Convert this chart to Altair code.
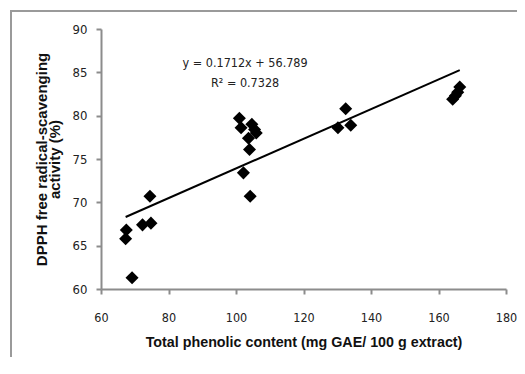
import altair as alt
import pandas as pd

tpc = [67.5, 67.3, 69.2, 72.3, 74.5, 74.8,
       101.0, 101.5, 102.2, 103.7, 104.0, 104.2, 104.7, 105.5, 106.0,
       130.2, 132.5, 134.0,
       164.2, 165.0, 165.7, 166.3]
dpph = [66.8, 65.8, 61.3, 67.4, 70.7, 67.6,
        79.7, 78.6, 73.4, 77.4, 76.1, 70.7, 79.0, 78.4, 78.0,
        78.6, 80.8, 78.9,
        81.9, 82.3, 82.7, 83.3]

slope = 0.1712
intercept = 56.789
eq_lines = ["y = 0.1712x + 56.789", "R² = 0.7328"]

df = pd.DataFrame({"x": tpc, "y": dpph})
xmin, xmax = min(tpc), max(tpc)
trend = pd.DataFrame({"x": [xmin, xmax],
                      "y": [slope * xmin + intercept, slope * xmax + intercept]})
ann = pd.DataFrame({"x": [102.7, 102.7], "y": [86.1, 83.8], "t": eq_lines})

FONT = "DejaVu Sans Condensed, Open Sans, Noto Sans, sans-serif"
BFONT = "Liberation Sans, Arial, sans-serif"

xscale = alt.Scale(domain=[60, 180], nice=False, zero=False)
yscale = alt.Scale(domain=[60, 90], nice=False, zero=False)

xaxis = alt.Axis(title="Total phenolic content  (mg GAE/ 100 g extract)",
                 values=[60, 80, 100, 120, 140, 160, 180], grid=False,
                 labelFlush=False, labelOverlap=False,
                 domainColor="#8c8c8c", domainWidth=2, tickColor="#8c8c8c",
                 tickWidth=2, tickSize=5, labelPadding=17, labelFontSize=12.5,
                 labelFont=FONT, labelColor="#222", titleFont=BFONT,
                 titleFontSize=14.3, titleFontWeight="bold", titleColor="#111",
                 titlePadding=12)
yaxis = alt.Axis(title=["DPPH free radical-scavenging", "activity (%)"],
                 values=[60, 65, 70, 75, 80, 85, 90], grid=False,
                 labelFlush=False, labelOverlap=False,
                 domainColor="#8c8c8c", domainWidth=2, tickColor="#8c8c8c",
                 tickWidth=2, tickSize=5, labelPadding=9, labelFontSize=13,
                 labelFont=FONT, labelColor="#222", titleFont=BFONT,
                 titleFontSize=15, titleFontWeight="bold", titleColor="#111",
                 titlePadding=10, titleLineHeight=13)

anchor = pd.DataFrame({"a": [0]})
frame_left = alt.Chart(anchor).mark_rule(color="#9a9a9a", strokeWidth=2).encode(
    x=alt.value(-90), y=alt.value(-19), y2=alt.value(400))
frame_top = alt.Chart(anchor).mark_rule(color="#9a9a9a", strokeWidth=2).encode(
    x=alt.value(-91), x2=alt.value(700), y=alt.value(-18))

points = alt.Chart(df).mark_point(shape="diamond", filled=True, color="black",
                                  size=170, opacity=1).encode(
    x=alt.X("x:Q", scale=xscale, axis=xaxis),
    y=alt.Y("y:Q", scale=yscale, axis=yaxis),
)

line = alt.Chart(trend).mark_line(color="black", strokeWidth=2).encode(
    x=alt.X("x:Q", scale=xscale), y=alt.Y("y:Q", scale=yscale))

text = alt.Chart(ann).mark_text(font=FONT, fontSize=12.5, color="#222").encode(
    x=alt.X("x:Q", scale=xscale), y=alt.Y("y:Q", scale=yscale), text="t:N")

chart = alt.layer(points, line, text, frame_left, frame_top).properties(
    width=405, height=260,
    autosize=alt.AutoSizeParams(type="none"),
    padding={"left": 93, "top": 21, "right": 11, "bottom": 68},
    background="white",
).configure_view(stroke=None)

chart.save("out.html", embed_options={"renderer": "svg", "actions": False})
